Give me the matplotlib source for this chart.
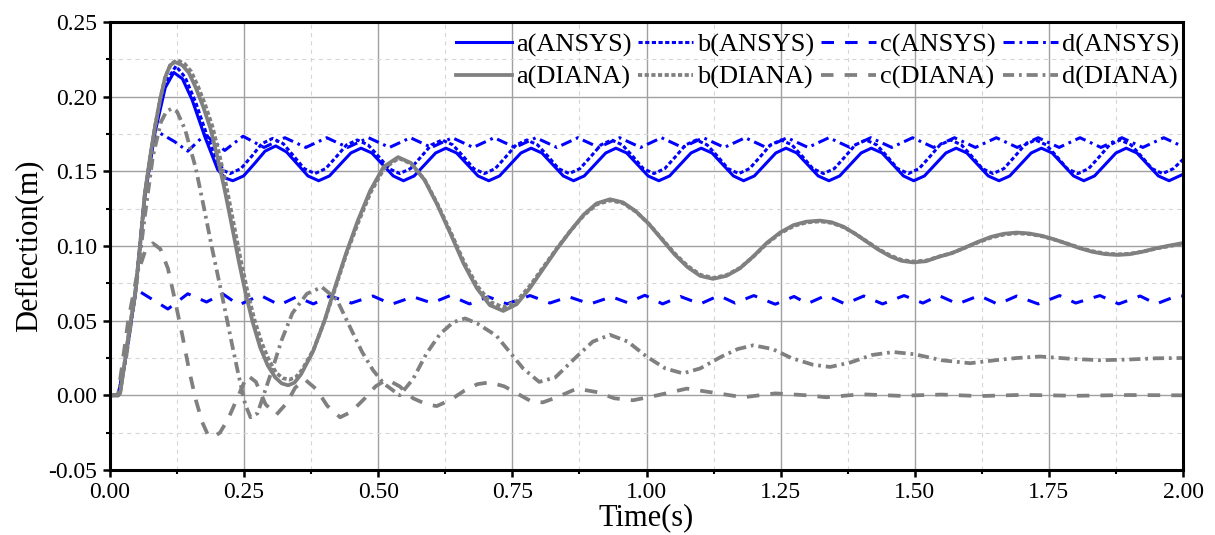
import matplotlib
matplotlib.use("Agg")
import matplotlib.pyplot as plt
from matplotlib.ticker import MultipleLocator, FormatStrFormatter

plt.rcParams['font.family'] = ['Liberation Serif', 'DejaVu Serif']
plt.rcParams['axes.unicode_minus'] = False
plt.rcParams['lines.scale_dashes'] = False

# ---- data ----
a_ansys_t = [0.000, 0.015, 0.028, 0.047, 0.065, 0.084, 0.103, 0.119, 0.135, 0.153, 0.177, 0.201, 0.215,
             0.229, 0.249, 0.269, 0.289, 0.309, 0.329, 0.349, 0.369,
             0.389, 0.409, 0.429, 0.449, 0.468, 0.488, 0.508, 0.528,
             0.547, 0.567, 0.587, 0.607, 0.626, 0.646, 0.666, 0.686,
             0.706, 0.726, 0.746, 0.766, 0.785, 0.805, 0.825, 0.845,
             0.864, 0.884, 0.904, 0.924, 0.943, 0.963, 0.983, 1.003,
             1.023, 1.043, 1.063, 1.083, 1.102, 1.122, 1.142, 1.162,
             1.181, 1.201, 1.221, 1.241, 1.260, 1.280, 1.300, 1.320,
             1.340, 1.360, 1.380, 1.400, 1.419, 1.439, 1.459, 1.479,
             1.498, 1.518, 1.538, 1.558, 1.577, 1.597, 1.617, 1.637,
             1.657, 1.677, 1.697, 1.717, 1.736, 1.756, 1.776, 1.796,
             1.815, 1.835, 1.855, 1.875, 1.894, 1.914, 1.934, 1.954,
             1.974, 2.000]
a_ansys = [0.000, 0.000, 0.022, 0.067, 0.133, 0.176, 0.206, 0.2162, 0.212, 0.198, 0.173, 0.151, 0.1455,
           0.1437, 0.1469, 0.1550, 0.1635, 0.1670, 0.1630, 0.1550, 0.1469,
           0.1437, 0.1469, 0.1546, 0.1623, 0.1655, 0.1623, 0.1546, 0.1469,
           0.1437, 0.1469, 0.1546, 0.1623, 0.1655, 0.1623, 0.1546, 0.1469,
           0.1437, 0.1469, 0.1546, 0.1623, 0.1655, 0.1623, 0.1546, 0.1469,
           0.1437, 0.1469, 0.1546, 0.1623, 0.1655, 0.1623, 0.1546, 0.1469,
           0.1437, 0.1469, 0.1546, 0.1623, 0.1655, 0.1623, 0.1546, 0.1469,
           0.1437, 0.1469, 0.1546, 0.1623, 0.1655, 0.1623, 0.1546, 0.1469,
           0.1437, 0.1469, 0.1546, 0.1623, 0.1655, 0.1623, 0.1546, 0.1469,
           0.1437, 0.1469, 0.1546, 0.1623, 0.1655, 0.1623, 0.1546, 0.1469,
           0.1437, 0.1469, 0.1546, 0.1623, 0.1655, 0.1623, 0.1546, 0.1469,
           0.1437, 0.1469, 0.1546, 0.1623, 0.1655, 0.1623, 0.1546, 0.1469,
           0.1437, 0.1480]

b_ansys_t = [0.000, 0.015, 0.028, 0.047, 0.065, 0.084, 0.103, 0.123, 0.140, 0.160, 0.180, 0.200, 0.212,
             0.224, 0.244, 0.264, 0.283, 0.303, 0.323, 0.343, 0.362,
             0.382, 0.402, 0.422, 0.441, 0.461, 0.481, 0.501, 0.520,
             0.540, 0.560, 0.580, 0.599, 0.619, 0.639, 0.659, 0.678,
             0.698, 0.718, 0.738, 0.757, 0.777, 0.797, 0.817, 0.836,
             0.856, 0.876, 0.896, 0.915, 0.935, 0.955, 0.975, 0.994,
             1.014, 1.034, 1.054, 1.073, 1.093, 1.113, 1.133, 1.152,
             1.172, 1.192, 1.212, 1.231, 1.251, 1.271, 1.291, 1.310,
             1.330, 1.350, 1.370, 1.389, 1.409, 1.429, 1.449, 1.468,
             1.488, 1.508, 1.528, 1.547, 1.567, 1.587, 1.607, 1.626,
             1.646, 1.666, 1.686, 1.705, 1.725, 1.745, 1.765, 1.784,
             1.804, 1.824, 1.844, 1.863, 1.883, 1.903, 1.923, 1.942,
             1.962, 1.982, 2.000]
b_ansys = [0.000, 0.000, 0.022, 0.067, 0.134, 0.178, 0.209, 0.2205, 0.213, 0.196, 0.175, 0.157, 0.1505,
           0.1485, 0.1518, 0.1600, 0.1685, 0.1720, 0.1685, 0.1600, 0.1518,
           0.1485, 0.1518, 0.1598, 0.1677, 0.1710, 0.1677, 0.1598, 0.1518,
           0.1485, 0.1518, 0.1598, 0.1677, 0.1710, 0.1677, 0.1598, 0.1518,
           0.1485, 0.1518, 0.1598, 0.1677, 0.1710, 0.1677, 0.1598, 0.1518,
           0.1485, 0.1518, 0.1598, 0.1677, 0.1710, 0.1677, 0.1598, 0.1518,
           0.1485, 0.1518, 0.1598, 0.1677, 0.1710, 0.1677, 0.1598, 0.1518,
           0.1485, 0.1518, 0.1598, 0.1677, 0.1710, 0.1677, 0.1598, 0.1518,
           0.1485, 0.1518, 0.1598, 0.1677, 0.1710, 0.1677, 0.1598, 0.1518,
           0.1485, 0.1518, 0.1598, 0.1677, 0.1710, 0.1677, 0.1598, 0.1518,
           0.1485, 0.1518, 0.1598, 0.1677, 0.1710, 0.1677, 0.1598, 0.1518,
           0.1485, 0.1518, 0.1598, 0.1677, 0.1710, 0.1677, 0.1598, 0.1518,
           0.1485, 0.1518, 0.1580]

c_ansys_t = [0.000, 0.015, 0.028, 0.040, 0.047, 0.053, 0.080, 0.108, 0.145, 0.180, 0.210, 0.240,
             0.280, 0.316, 0.348, 0.379, 0.410, 0.450, 0.490, 0.525, 0.565, 0.600, 0.634, 0.670,
             0.705, 0.740, 0.783, 0.820, 0.855, 0.895, 0.935, 0.965, 0.997, 1.030, 1.063, 1.100,
             1.135, 1.165, 1.200, 1.240, 1.275, 1.300, 1.335, 1.370, 1.405, 1.440, 1.480, 1.515,
             1.545, 1.580, 1.620, 1.655, 1.690, 1.730, 1.770, 1.800, 1.845, 1.880, 1.920, 1.950,
             1.990, 2.000]
c_ansys = [0.000, 0.000, 0.022, 0.055, 0.066, 0.0700, 0.0640, 0.0578, 0.0680, 0.0625, 0.0680, 0.0605,
           0.0670, 0.0605, 0.0660, 0.0612, 0.0665, 0.0618, 0.0665, 0.0610, 0.0660, 0.0618, 0.0668, 0.0612,
           0.0660, 0.0612, 0.0668, 0.0618, 0.0660, 0.0612, 0.0660, 0.0620, 0.0670, 0.0612, 0.0662, 0.0612,
           0.0668, 0.0618, 0.0668, 0.0610, 0.0662, 0.0614, 0.0670, 0.0612, 0.0665, 0.0612, 0.0668, 0.0618,
           0.0668, 0.0612, 0.0668, 0.0610, 0.0665, 0.0612, 0.0668, 0.0618, 0.0668, 0.0612, 0.0665, 0.0612,
           0.0668, 0.0665]

d_ansys_t = [0.000, 0.015, 0.028, 0.047, 0.065, 0.080, 0.093, 0.120, 0.145, 0.177, 0.214,
             0.248, 0.287, 0.326, 0.365, 0.404, 0.443, 0.482, 0.521, 0.560, 0.599, 0.638, 0.677,
             0.716, 0.755, 0.794, 0.833, 0.872, 0.911, 0.950, 0.989, 1.028, 1.067, 1.106, 1.145,
             1.184, 1.223, 1.262, 1.301, 1.340, 1.379, 1.418, 1.457, 1.496, 1.535, 1.574, 1.613,
             1.652, 1.691, 1.730, 1.769, 1.808, 1.847, 1.886, 1.925, 1.964, 2.000]
d_ansys = [0.000, 0.000, 0.022, 0.068, 0.135, 0.168, 0.1756, 0.1700, 0.1635, 0.1745, 0.1640,
           0.1735, 0.1660, 0.1725, 0.1660, 0.1725, 0.1660, 0.1725, 0.1660, 0.1725, 0.1660, 0.1725, 0.1660,
           0.1725, 0.1660, 0.1725, 0.1660, 0.1725, 0.1660, 0.1725, 0.1660, 0.1725, 0.1660, 0.1725, 0.1660,
           0.1725, 0.1660, 0.1725, 0.1660, 0.1725, 0.1660, 0.1725, 0.1660, 0.1725, 0.1660, 0.1725, 0.1660,
           0.1725, 0.1660, 0.1725, 0.1660, 0.1725, 0.1660, 0.1725, 0.1660, 0.1725, 0.1665]

a_diana_t = [0.000, 0.015, 0.019, 0.028, 0.037, 0.047, 0.056, 0.065, 0.075, 0.084, 0.094, 0.103, 0.112,
             0.121, 0.135, 0.147, 0.160, 0.174, 0.187, 0.200, 0.213, 0.227, 0.240, 0.253, 0.266,
             0.280, 0.294, 0.308, 0.320, 0.332, 0.344, 0.356, 0.378, 0.400, 0.420, 0.440, 0.462,
             0.485, 0.510, 0.537, 0.561, 0.586, 0.610, 0.635, 0.659, 0.684, 0.708, 0.733, 0.758,
             0.783, 0.808, 0.833, 0.858, 0.883, 0.907, 0.932, 0.956, 0.980, 1.004, 1.028, 1.052,
             1.076, 1.100, 1.124, 1.149, 1.174, 1.199, 1.224, 1.249, 1.274, 1.298, 1.323, 1.345,
             1.367, 1.388, 1.410, 1.432, 1.454, 1.475, 1.497, 1.521, 1.545, 1.569, 1.594, 1.618,
             1.642, 1.666, 1.690, 1.713, 1.737, 1.760, 1.784, 1.807, 1.830, 1.854, 1.877, 1.900,
             1.925, 1.950, 1.975, 2.000]
a_diana = [0.000, 0.000, 0.0013, 0.0235, 0.046, 0.068, 0.100, 0.135, 0.160, 0.180, 0.199, 0.213, 0.221,
           0.2232, 0.221, 0.216, 0.206, 0.193, 0.179, 0.160, 0.139, 0.114, 0.090, 0.068, 0.049,
           0.032, 0.020, 0.012, 0.008, 0.0067, 0.0085, 0.014, 0.029, 0.050, 0.073, 0.095, 0.117,
           0.137, 0.153, 0.1595, 0.1556, 0.1444, 0.1277, 0.108, 0.0883, 0.0716, 0.0604, 0.0565, 0.061,
           0.072, 0.085, 0.098, 0.110, 0.121, 0.1285, 0.1313, 0.1292, 0.1233, 0.1149, 0.1047, 0.0945,
           0.0860, 0.0800, 0.0780, 0.0800, 0.0850, 0.0930, 0.1020, 0.1090, 0.1140, 0.1163, 0.1170, 0.1159,
           0.1129, 0.1084, 0.1030, 0.0976, 0.0931, 0.0901, 0.0890, 0.0898, 0.0928, 0.0952, 0.0990, 0.1028,
           0.1061, 0.1082, 0.1090, 0.1084, 0.1068, 0.1044, 0.1015, 0.0986, 0.0962, 0.0946, 0.0940, 0.0945,
           0.0962, 0.0985, 0.1003, 0.1020]

b_diana_t = [0.000, 0.015, 0.019, 0.028, 0.037, 0.047, 0.056, 0.065, 0.075, 0.084, 0.094, 0.103, 0.114,
             0.125, 0.139, 0.151, 0.164, 0.178, 0.191, 0.204, 0.217, 0.230, 0.243, 0.256, 0.269,
             0.283, 0.297, 0.310, 0.322, 0.334, 0.346, 0.358, 0.380, 0.401, 0.421, 0.441, 0.463,
             0.486, 0.511, 0.538, 0.562, 0.587, 0.611, 0.636, 0.660, 0.685, 0.709, 0.733, 0.758,
             0.783, 0.808, 0.833, 0.858, 0.883, 0.908, 0.933, 0.957, 0.981, 1.005, 1.029, 1.053,
             1.077, 1.101, 1.125, 1.150, 1.175, 1.200, 1.225, 1.250, 1.275, 1.299, 1.324, 1.346,
             1.368, 1.389, 1.411, 1.433, 1.455, 1.476, 1.498, 1.522, 1.546, 1.570, 1.595, 1.619,
             1.643, 1.667, 1.691, 1.714, 1.738, 1.761, 1.785, 1.808, 1.831, 1.855, 1.878, 1.901,
             1.926, 1.951, 1.976, 2.000]
b_diana = [0.000, 0.000, 0.0013, 0.0235, 0.046, 0.068, 0.100, 0.135, 0.160, 0.180, 0.199, 0.213, 0.222,
           0.2245, 0.222, 0.217, 0.207, 0.194, 0.180, 0.161, 0.140, 0.116, 0.092, 0.070, 0.051,
           0.035, 0.023, 0.015, 0.0115, 0.0105, 0.012, 0.017, 0.031, 0.051, 0.073, 0.095, 0.116,
           0.136, 0.152, 0.1588, 0.1550, 0.1440, 0.1277, 0.1085, 0.0892, 0.0730, 0.0625, 0.0590, 0.0630,
           0.0735, 0.0860, 0.0985, 0.1100, 0.1205, 0.1280, 0.1305, 0.1286, 0.1228, 0.1146, 0.1047, 0.0948,
           0.0865, 0.0806, 0.0786, 0.0806, 0.0855, 0.0932, 0.1018, 0.1087, 0.1135, 0.1158, 0.1165, 0.1154,
           0.1125, 0.1082, 0.1030, 0.0978, 0.0935, 0.0906, 0.0896, 0.0903, 0.0930, 0.0954, 0.0990, 0.1026,
           0.1057, 0.1077, 0.1085, 0.1080, 0.1065, 0.1042, 0.1015, 0.0988, 0.0965, 0.0950, 0.0944, 0.0948,
           0.0963, 0.0984, 0.1000, 0.1015]

c_diana_t = [0.000, 0.015, 0.034, 0.050, 0.065, 0.080, 0.094, 0.108, 0.121, 0.135, 0.148, 0.160,
             0.172, 0.182, 0.192, 0.205, 0.220, 0.236, 0.256, 0.272, 0.290, 0.310, 0.330, 0.345,
             0.363, 0.385, 0.405, 0.429, 0.450, 0.475, 0.495, 0.516, 0.540, 0.565, 0.590, 0.609,
             0.635, 0.660, 0.685, 0.708, 0.735, 0.760, 0.785, 0.807, 0.835, 0.870, 0.910, 0.940,
             0.975, 1.020, 1.075, 1.130, 1.180, 1.240, 1.300, 1.335, 1.400, 1.470, 1.550, 1.620,
             1.700, 1.800, 1.900, 2.000]
c_diana = [0.000, 0.000, 0.050, 0.080, 0.096, 0.1018, 0.098, 0.085, 0.064, 0.040, 0.016, -0.003,
           -0.018, -0.026, -0.028, -0.025, -0.016, -0.003, 0.0135, 0.009, -0.006, -0.013, -0.005, 0.005,
           0.0107, 0.004, -0.007, -0.0147, -0.011, -0.002, 0.006, 0.0107, 0.006, -0.002, -0.006, -0.0072,
           -0.003, 0.003, 0.0075, 0.0087, 0.006, 0.001, -0.004, -0.0047, -0.001, 0.0045, 0.002, -0.002,
           -0.0033, 0.000, 0.0045, 0.0015, -0.0013, 0.0013, 0.000, -0.0013, 0.0007, -0.0003, 0.0005, -0.0005,
           0.0003, -0.0003, 0.0002, 0.000]

d_diana_t = [0.000, 0.015, 0.030, 0.047, 0.065, 0.080, 0.095, 0.105, 0.115, 0.125, 0.140, 0.160,
             0.175, 0.190, 0.210, 0.227, 0.240, 0.252, 0.262, 0.275, 0.290, 0.304, 0.320, 0.340,
             0.367, 0.395, 0.423, 0.447, 0.470, 0.490, 0.510, 0.540, 0.565, 0.590, 0.615, 0.640,
             0.662, 0.685, 0.720, 0.745, 0.770, 0.800, 0.830, 0.870, 0.900, 0.932, 0.965, 1.000,
             1.035, 1.068, 1.100, 1.140, 1.170, 1.199, 1.235, 1.270, 1.310, 1.342, 1.380, 1.420,
             1.460, 1.500, 1.550, 1.603, 1.650, 1.690, 1.733, 1.790, 1.845, 1.900, 1.950, 2.000]
d_diana = [0.000, 0.000, 0.025, 0.068, 0.120, 0.160, 0.183, 0.190, 0.192, 0.190, 0.178, 0.152,
           0.126, 0.099, 0.065, 0.035, 0.013, -0.006, -0.0147, -0.012, 0.004, 0.019, 0.037, 0.055,
           0.068, 0.0725, 0.064, 0.046, 0.029, 0.017, 0.008, 0.000, 0.011, 0.028, 0.041, 0.049,
           0.0515, 0.048, 0.040, 0.029, 0.018, 0.009, 0.012, 0.026, 0.036, 0.0405, 0.036, 0.026,
           0.018, 0.0147, 0.018, 0.026, 0.031, 0.0335, 0.031, 0.025, 0.0205, 0.019, 0.022, 0.027,
           0.029, 0.0275, 0.0235, 0.0215, 0.0235, 0.025, 0.026, 0.0245, 0.0235, 0.024, 0.0248, 0.025]

BLUE = '#0000ff'
GRAY = '#808080'

fig = plt.figure(figsize=(12.15, 5.35), dpi=100)
ax = fig.add_axes([0.0905, 0.1215, 0.8832, 0.8374])

la, = ax.plot(a_ansys_t, a_ansys, color=BLUE, lw=2.2, label='a(ANSYS)')
lb, = ax.plot(b_ansys_t, b_ansys, color=BLUE, lw=2.2, ls=(0, (3.0, 1.8)), label='b(ANSYS)')
lc, = ax.plot(c_ansys_t, c_ansys, color=BLUE, lw=2.2, ls=(0, (9, 8)), label='c(ANSYS)')
ld, = ax.plot(d_ansys_t, d_ansys, color=BLUE, lw=2.2, ls=(0, (8, 3.5, 2, 3.5)), label='d(ANSYS)')
ma, = ax.plot(a_diana_t, a_diana, color=GRAY, lw=2.7, label='a(DIANA)')
mb, = ax.plot(b_diana_t, b_diana, color=GRAY, lw=2.7, ls=(0, (3.0, 1.8)), label='b(DIANA)')
mc, = ax.plot(c_diana_t, c_diana, color=GRAY, lw=2.7, ls=(0, (9, 8)), label='c(DIANA)')
md, = ax.plot(d_diana_t, d_diana, color=GRAY, lw=2.7, ls=(0, (8, 3.5, 2, 3.5)), label='d(DIANA)')

ax.set_xlim(0, 2.0)
ax.set_ylim(-0.05, 0.25)
ax.xaxis.set_major_locator(MultipleLocator(0.25))
ax.xaxis.set_minor_locator(MultipleLocator(0.125))
ax.yaxis.set_major_locator(MultipleLocator(0.05))
ax.yaxis.set_minor_locator(MultipleLocator(0.025))
ax.xaxis.set_major_formatter(FormatStrFormatter('%.2f'))
ax.yaxis.set_major_formatter(FormatStrFormatter('%.2f'))

ax.set_axisbelow(True)
ax.grid(which='major', color='#a0a0a0', lw=1.0, ls='-')
ax.grid(which='minor', color='#d6d6d6', lw=0.8, ls=(0, (3, 3)))

for s in ax.spines.values():
    s.set_linewidth(2.2)
    s.set_color('black')
ax.tick_params(which='major', direction='out', length=5, width=1.8, labelsize=17, pad=4)
ax.tick_params(which='minor', direction='out', length=3, width=1.5)

ax.set_xlabel('Time(s)', fontsize=22, labelpad=0)
ax.set_ylabel('Deflection(m)', fontsize=22, labelpad=4)

handles = [la, ma, lb, mb, lc, mc, ld, md]
ax.legend(handles=handles, labels=[h.get_label() for h in handles], ncol=4, loc='upper right',
          bbox_to_anchor=(1.0, 0.985), frameon=False, fontsize=19, handlelength=2.1,
          handletextpad=0.15, columnspacing=0.25, labelspacing=0.33, borderaxespad=0.0,
          borderpad=0.15)

fig.savefig('out.png', dpi=100)
